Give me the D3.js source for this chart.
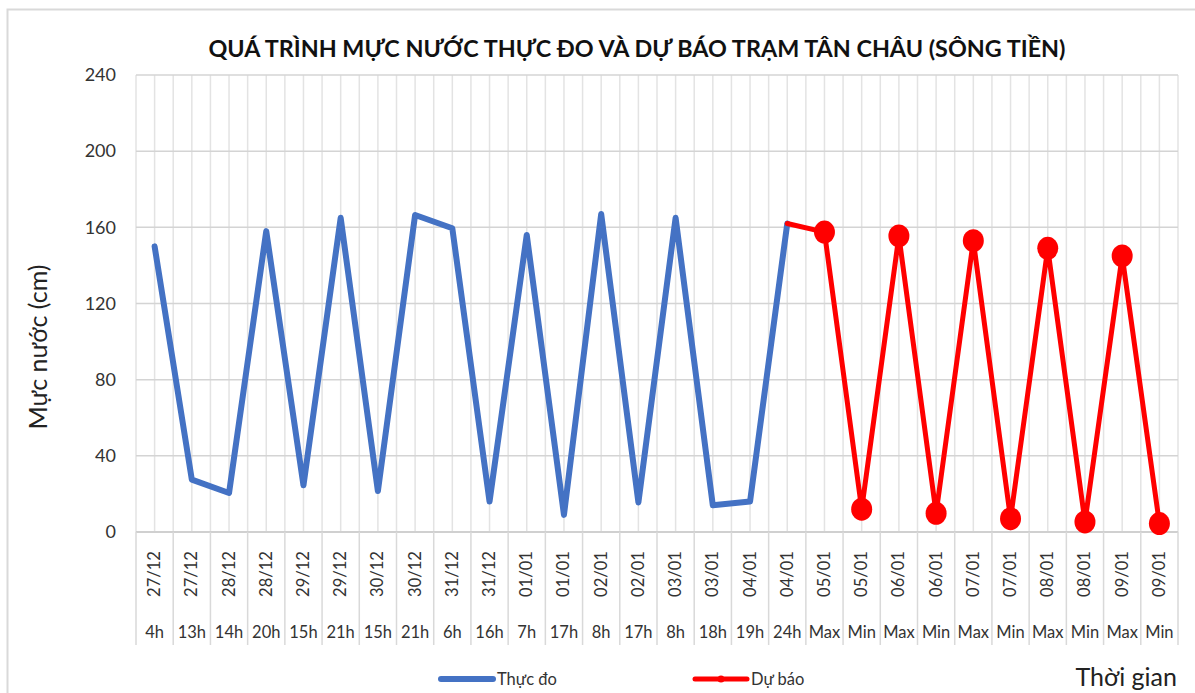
<!DOCTYPE html>
<html>
<head>
    <meta charset="UTF-8">
    <title>Quá trình mực nước Tân Châu</title>
    <script type="text/javascript" src="https://cdn.jsdelivr.net/npm/d3@7/dist/d3.min.js"></script>
    <style>
        body { margin: 0; background: #fff; }
        svg { display: block; font-family: Lato, "Noto Sans", sans-serif; }
    </style>
</head>
<body>
    <div id="chart"></div>
    <script>
        // category labels (two levels)
        var dates = ["27/12","27/12","28/12","28/12","29/12","29/12","30/12","30/12","31/12","31/12",
                     "01/01","01/01","02/01","02/01","03/01","03/01","04/01","04/01",
                     "05/01","05/01","06/01","06/01","07/01","07/01","08/01","08/01","09/01","09/01"];
        var hours = ["4h","13h","14h","20h","15h","21h","15h","21h","6h","16h","7h","17h","8h","17h","8h","18h","19h","24h",
                     "Max","Min","Max","Min","Max","Min","Max","Min","Max","Min"];

        // Thực đo (observed), first 18 categories
        var observed = [150, 27.5, 20.5, 158, 24.5, 165, 21.5, 166.5, 159.5, 16, 156, 9, 167, 15.5, 165, 14, 16, 162];
        // Dự báo (forecast), starts at the last observed point
        var forecastStart = 17;
        var forecast = [162, 157.5, 12, 155.5, 9.8, 153, 7, 149, 5.3, 145, 4.4];

        var yTicks = [0, 40, 80, 120, 160, 200, 240];

        var width = 1195, height = 693;
        var margin = {left: 136, right: 17, top: 75, bottom: 161};

        var svg = d3.select("#chart").append("svg")
            .attr("width", width).attr("height", height);

        // chart border
        svg.append("rect")
            .attr("x", 7.5).attr("y", 9.5)
            .attr("width", 1200).attr("height", 700)
            .attr("fill", "none").attr("stroke", "#d9d9d9").attr("stroke-width", 2);

        var x = d3.scaleBand()
            .domain(d3.range(dates.length))
            .range([margin.left, width - margin.right])
            .padding(0);
        var bw = x.bandwidth();
        var cx = function (i) { return x(i) + bw / 2; };

        var y = d3.scaleLinear()
            .domain([0, 240])
            .range([height - margin.bottom, margin.top]);

        // vertical gridlines (at boundaries and centers)
        var vlines = [];
        d3.range(dates.length).forEach(function (i) { vlines.push(x(i)); vlines.push(cx(i)); });
        vlines.push(x(dates.length - 1) + bw);
        svg.append("g").selectAll("line").data(vlines).enter().append("line")
            .attr("x1", function (d) { return d; }).attr("x2", function (d) { return d; })
            .attr("y1", y(240)).attr("y2", y(0))
            .attr("stroke", "#e3e3e3").attr("stroke-width", 1.5);

        // horizontal gridlines
        svg.append("g").selectAll("line").data(yTicks.filter(function (d) { return d > 0; })).enter().append("line")
            .attr("x1", margin.left).attr("x2", width - margin.right)
            .attr("y1", function (d) { return y(d); }).attr("y2", function (d) { return y(d); })
            .attr("stroke", "#d4d4d4").attr("stroke-width", 1.5);

        // y axis labels
        var yAxis = svg.append("g")
            .attr("transform", "translate(" + margin.left + ",0)")
            .call(d3.axisLeft(y).tickValues(yTicks).tickSize(0).tickPadding(20));
        yAxis.select(".domain").remove();
        yAxis.selectAll("text")
            .attr("font-size", 18).attr("fill", "#333")
            .style("font-family", "Lato, 'Noto Sans', sans-serif");

        // x axis line & category separators
        svg.append("line")
            .attr("x1", margin.left).attr("x2", width - margin.right)
            .attr("y1", y(0)).attr("y2", y(0))
            .attr("stroke", "#d0d0d0").attr("stroke-width", 2);
        var seps = d3.range(dates.length + 1).map(function (i) { return margin.left + i * bw; });
        svg.append("g").selectAll("line").data(seps).enter().append("line")
            .attr("x1", function (d) { return d; }).attr("x2", function (d) { return d; })
            .attr("y1", y(0)).attr("y2", 645)
            .attr("stroke", "#d9d9d9").attr("stroke-width", 1.5);

        // date labels (rotated)
        svg.append("g").selectAll("text").data(dates).enter().append("text")
            .attr("transform", function (d, i) { return "translate(" + (cx(i) + 5.5) + ",574) rotate(-90)"; })
            .attr("text-anchor", "middle")
            .attr("font-size", 16.5).attr("fill", "#333")
            .text(function (d) { return d; });

        // hour labels
        svg.append("g").selectAll("text").data(hours).enter().append("text")
            .attr("x", function (d, i) { return cx(i); })
            .attr("y", 638)
            .attr("text-anchor", "middle")
            .attr("font-size", 16.5).attr("fill", "#333")
            .text(function (d) { return d; });

        // observed line
        var line = d3.line()
            .x(function (d) { return cx(d.i); })
            .y(function (d) { return y(d.v); })
            .curve(d3.curveLinear);
        var obsData = observed.map(function (v, i) { return {i: i, v: v}; });
        var fcData = forecast.map(function (v, k) { return {i: forecastStart + k, v: v}; });

        svg.append("path").datum(obsData)
            .attr("d", line)
            .attr("fill", "none").attr("stroke", "#4472C4").attr("stroke-width", 6)
            .attr("stroke-linejoin", "round").attr("stroke-linecap", "round");

        svg.append("path").datum(fcData)
            .attr("d", line)
            .attr("fill", "none").attr("stroke", "#FF0000").attr("stroke-width", 5)
            .attr("stroke-linejoin", "round").attr("stroke-linecap", "round");

        svg.append("g").selectAll("ellipse").data(fcData.slice(1)).enter().append("ellipse")
            .attr("cx", function (d) { return cx(d.i); })
            .attr("cy", function (d) { return y(d.v); })
            .attr("rx", 10.5).attr("ry", 11.5)
            .attr("fill", "#FF0000");

        // title
        svg.append("text")
            .attr("x", 637).attr("y", 57)
            .attr("text-anchor", "middle")
            .attr("font-size", 22).attr("font-weight", "bold").attr("fill", "#111")
            .attr("textLength", 857).attr("lengthAdjust", "spacingAndGlyphs")
            .text("QUÁ TRÌNH MỰC NƯỚC THỰC ĐO VÀ DỰ BÁO TRẠM TÂN CHÂU (SÔNG TIỀN)");

        // y axis title
        svg.append("text")
            .attr("transform", "translate(47,347) rotate(-90)")
            .attr("text-anchor", "middle")
            .attr("font-size", 25).attr("fill", "#222")
            .text("Mực nước (cm)");

        // x axis title
        svg.append("text")
            .attr("x", 1177).attr("y", 686)
            .attr("text-anchor", "end")
            .attr("font-size", 25).attr("fill", "#222")
            .text("Thời gian");

        // legend
        var legend = [
            {name: "Thực đo", color: "#4472C4", x: 441, w: 6, marker: false},
            {name: "Dự báo", color: "#FF0000", x: 695, w: 5, marker: true}
        ];
        var lg = svg.append("g").selectAll("g").data(legend).enter().append("g")
            .attr("transform", function (d) { return "translate(" + d.x + ",679)"; });
        lg.append("line")
            .attr("x1", 0).attr("x2", 52)
            .attr("stroke", function (d) { return d.color; })
            .attr("stroke-width", function (d) { return d.w; })
            .attr("stroke-linecap", "round");
        lg.filter(function (d) { return d.marker; }).append("circle")
            .attr("cx", 26).attr("r", 3.5).attr("fill", function (d) { return d.color; });
        lg.append("text")
            .attr("x", 56).attr("y", 6)
            .attr("font-size", 16.5).attr("fill", "#333")
            .text(function (d) { return d.name; });
    </script>
</body>
</html>
